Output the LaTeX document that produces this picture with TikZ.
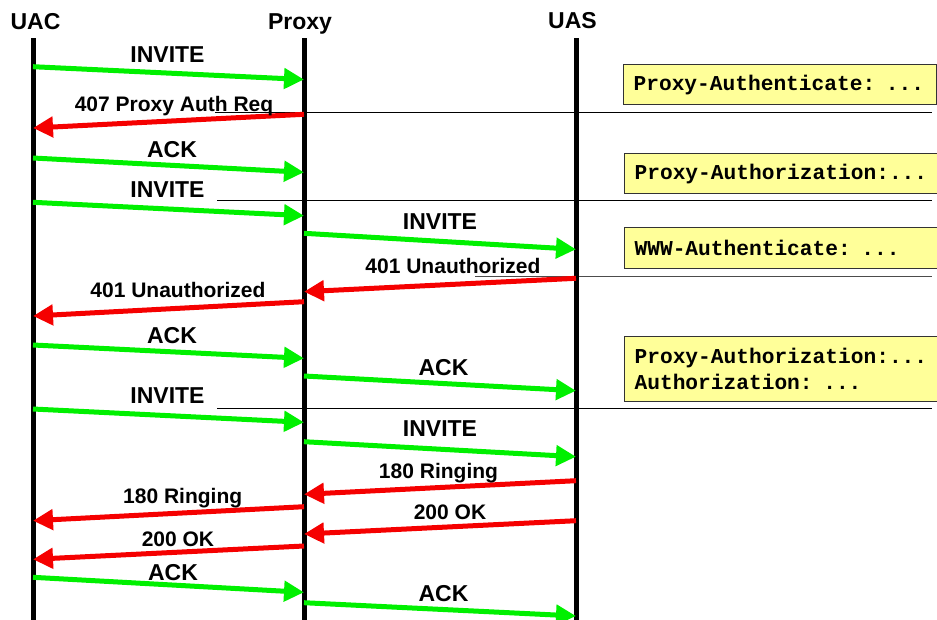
\documentclass[tikz,border=0pt]{standalone}
\usepackage{fontspec}
\setmainfont{Liberation Sans}
\newfontfamily\notefont{Liberation Mono}
\usepackage{tikz}
\usetikzlibrary{arrows.meta, positioning}
\definecolor{reqgreen}{RGB}{0,240,0}
\definecolor{resred}{RGB}{245,0,0}
\definecolor{notefill}{RGB}{255,255,153}
\tikzstyle{lifeline} = [line width=5pt, black]
\tikzstyle{request} = [line width=5pt, reqgreen,
-{Triangle[length=20pt,width=20pt]}]
\tikzstyle{response} = [line width=5pt, resred,
-{Triangle[length=20pt,width=20pt]}]
\tikzstyle{entity} = [anchor=base, inner sep=0pt,
font=\fontsize{23}{26}\selectfont\bfseries]
\tikzstyle{reqlabel} = [anchor=base, inner sep=0pt,
font=\fontsize{23}{26}\selectfont\bfseries]
\tikzstyle{reslabel} = [anchor=base, inner sep=0pt,
font=\fontsize{21}{24}\selectfont\bfseries]
\tikzstyle{hdrnote} = [rectangle,
anchor=north west,
minimum width=313pt,
text width=293pt, inner xsep=10pt, inner ysep=0pt,
align=left,
draw=black!80, line width=1.2pt, fill=notefill,
font=\notefont\fontsize{21.2}{26}\selectfont\bfseries]
\tikzstyle{divider} = [line width=1pt, black]

\begin{document}
\begin{tikzpicture}[x=1pt, y=-1pt]
            \useasboundingbox (0,0) rectangle (937,619);

            % entities
            \node (uac) [entity] at (35.5,29) {UAC};
            \node (proxy) [entity] at (300,29) {Proxy};
            \node (uas) [entity] at (572.5,28.5) {UAS};
            \coordinate (uacTop) at (33,38);
            \coordinate (proxyTop) at (304,38);
            \coordinate (uasTop) at (576,38);

            % transaction separators
            \draw [divider] (215,112) -- (932,112);
            \draw [divider] (217,200.7) -- (932,200.7);
            \draw [divider, black!70] (475,276) -- (932,276);
            \draw [divider] (217,408.3) -- (932,408.3);

            % header fields
            \node (h1) [hdrnote, minimum height=40pt] at (623,64) {Proxy-Authenticate: ...};
            \node (h2) [hdrnote, minimum height=40pt] at (624,153) {Proxy-Authorization:...};
            \node (h3) [hdrnote, minimum height=41pt] at (624,227) {WWW-Authenticate: ...};
            \node (h4) [hdrnote, minimum height=65pt] at (624,336) {Proxy-Authorization:...\\Authorization: ...};

            % lifelines
            \draw [lifeline] (uacTop) -- (uacTop |- 0,622);
            \draw [lifeline] (proxyTop) -- (proxyTop |- 0,622);
            \draw [lifeline] (uasTop) -- (uasTop |- 0,622);

            % messages
            \draw [request] (uacTop |- 0,66.7) -- (proxyTop |- 0,79.5);
            \draw [response] (proxyTop |- 0,114.3) -- (uacTop |- 0,128);
            \draw [request] (uacTop |- 0,158) -- (proxyTop |- 0,172.3);
            \draw [request] (uacTop |- 0,202.3) -- (proxyTop |- 0,215.7);
            \draw [request] (proxyTop |- 0,233.3) -- (uasTop |- 0,249.3);
            \draw [response] (uasTop |- 0,278.3) -- (proxyTop |- 0,291.7);
            \draw [response] (proxyTop |- 0,301.7) -- (uacTop |- 0,316);
            \draw [request] (uacTop |- 0,345) -- (proxyTop |- 0,358.3);
            \draw [request] (proxyTop |- 0,376) -- (uasTop |- 0,390.7);
            \draw [request] (uacTop |- 0,409) -- (proxyTop |- 0,422.3);
            \draw [request] (proxyTop |- 0,441.7) -- (uasTop |- 0,456.7);
            \draw [response] (uasTop |- 0,480.7) -- (proxyTop |- 0,494.3);
            \draw [response] (proxyTop |- 0,506.7) -- (uacTop |- 0,520.7);
            \draw [response] (uasTop |- 0,520.7) -- (proxyTop |- 0,534);
            \draw [response] (proxyTop |- 0,546) -- (uacTop |- 0,559.3);
            \draw [request] (uacTop |- 0,577.3) -- (proxyTop |- 0,592.3);
            \draw [request] (proxyTop |- 0,602.7) -- (uasTop |- 0,616);

            % message labels
            \node (m1) [reqlabel] at (167.5,62) {INVITE};
            \node (m2) [reslabel] at (174,111.5) {407 Proxy Auth Req};
            \node (m3) [reqlabel] at (172,157.7) {ACK};
            \node (m4) [reqlabel] at (167.5,197.3) {INVITE};
            \node (m5) [reqlabel] at (440,229) {INVITE};
            \node (m6) [reslabel] at (453,273.3) {401 Unauthorized};
            \node (m7) [reslabel] at (178,297.3) {401 Unauthorized};
            \node (m8) [reqlabel] at (172,343.3) {ACK};
            \node (m9) [reqlabel] at (443.5,375.7) {ACK};
            \node (m10) [reqlabel] at (167.5,403.3) {INVITE};
            \node (m11) [reqlabel] at (440,436.7) {INVITE};
            \node (m12) [reslabel] at (438.5,478.3) {180 Ringing};
            \node (m13) [reslabel] at (182.7,503.3) {180 Ringing};
            \node (m14) [reslabel] at (450,519.3) {200 OK};
            \node (m15) [reslabel] at (178,546.7) {200 OK};
            \node (m16) [reqlabel] at (173,580.7) {ACK};
            \node (m17) [reqlabel] at (443.5,601.7) {ACK};
        \end{tikzpicture}
\end{document}
